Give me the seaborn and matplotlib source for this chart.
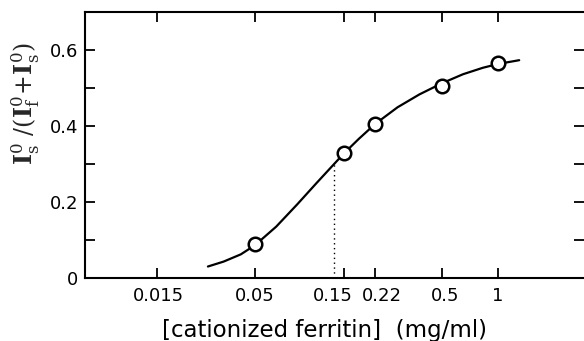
"""Saturation curve: fraction of surface-bound label vs cationized ferritin
concentration, log x axis, with the half-point marked by a dotted line."""
import matplotlib
matplotlib.use("Agg")
import matplotlib.pyplot as plt
import matplotlib.transforms as mtransforms
import seaborn as sns
from matplotlib.ticker import FixedLocator, FixedFormatter, NullLocator, MultipleLocator

# measured points (open circles)
conc = [0.05, 0.15, 0.22, 0.5, 1.0]
frac = [0.09, 0.33, 0.405, 0.505, 0.565]

# fitted curve
curve_x = [0.028, 0.034, 0.042, 0.05, 0.065, 0.084, 0.107, 0.13, 0.15,
           0.18, 0.22, 0.29, 0.38, 0.5, 0.65, 0.83, 1.0, 1.3]
curve_y = [0.030, 0.043, 0.062, 0.086, 0.135, 0.193, 0.250, 0.295, 0.328,
           0.366, 0.405, 0.449, 0.483, 0.512, 0.536, 0.553, 0.563, 0.573]

# half-saturation marker
half_x = 0.132
half_y = 0.30

xticks = [0.015, 0.05, 0.15, 0.22, 0.5, 1.0]
xtick_labels = ["0.015", "0.05", "0.15", "0.22", "0.5", "1"]
yticks = [0, 0.2, 0.4, 0.6]
ytick_labels = ["0", "0.2", "0.4", "0.6"]

# the printed labels sit a little off their ticks (pixels)
xlabel_shift = [1, 0, -11, 7, 3, 0]

sns.set_theme(style="ticks")
plt.rcParams["font.family"] = ["DejaVu Sans"]

fig = plt.figure(figsize=(5.84, 3.41), dpi=100)
ax = fig.add_axes([0.1455, 0.185, 0.8545, 0.78])

sns.lineplot(x=curve_x, y=curve_y, sort=False, color="black", linewidth=1.6, ax=ax)
ax.plot([half_x, half_x], [0, half_y], color="black", linestyle=(0, (1, 2.5)), linewidth=1.0)
sns.scatterplot(x=conc, y=frac, s=95, facecolor="white", edgecolor="black",
                linewidth=1.8, zorder=5, ax=ax)

ax.set_xscale("log")
ax.set_xlim(0.00615, 2.89)
ax.set_ylim(0, 0.7)

ax.xaxis.set_major_locator(FixedLocator(xticks))
ax.xaxis.set_minor_locator(NullLocator())
ax.yaxis.set_major_locator(FixedLocator(yticks))
ax.yaxis.set_major_formatter(FixedFormatter(ytick_labels))
ax.yaxis.set_minor_locator(MultipleLocator(0.1))

ax.tick_params(which="both", direction="in", top=True, right=True, width=1.3,
               length=7, color="black", labelsize=13, labelcolor="black")
ax.tick_params(axis="x", labelbottom=False)
ax.tick_params(axis="y", pad=5)

# x tick labels drawn by hand so each can be nudged like the print
xform = mtransforms.blended_transform_factory(ax.transData, ax.transAxes)
for x, lab, dx in zip(xticks, xtick_labels, xlabel_shift):
    t = mtransforms.offset_copy(xform, fig=fig, x=dx, y=-9, units="dots")
    ax.text(x, 0, lab, transform=t, ha="center", va="top", fontsize=13, color="black")

for side in ["left", "bottom", "top"]:
    ax.spines[side].set_linewidth(1.5)
    ax.spines[side].set_color("black")
ax.spines["right"].set_visible(False)

ax.set_xlabel("")
ax.set_ylabel("")
fig.text(324 / 584, 1 - 330 / 341, "[cationized ferritin]  (mg/ml)",
         ha="center", va="center", fontsize=16.5, color="black")
fig.text(0.045, 1 - 104 / 341,
         r"$\mathbf{I}_\mathrm{s}^{0}\ /(\mathbf{I}_\mathrm{f}^{0}\!+\!\mathbf{I}_\mathrm{s}^{0})$",
         rotation=90, va="center", ha="center", fontsize=17, math_fontfamily="dejavuserif")

fig.savefig("out.png", dpi=100)
